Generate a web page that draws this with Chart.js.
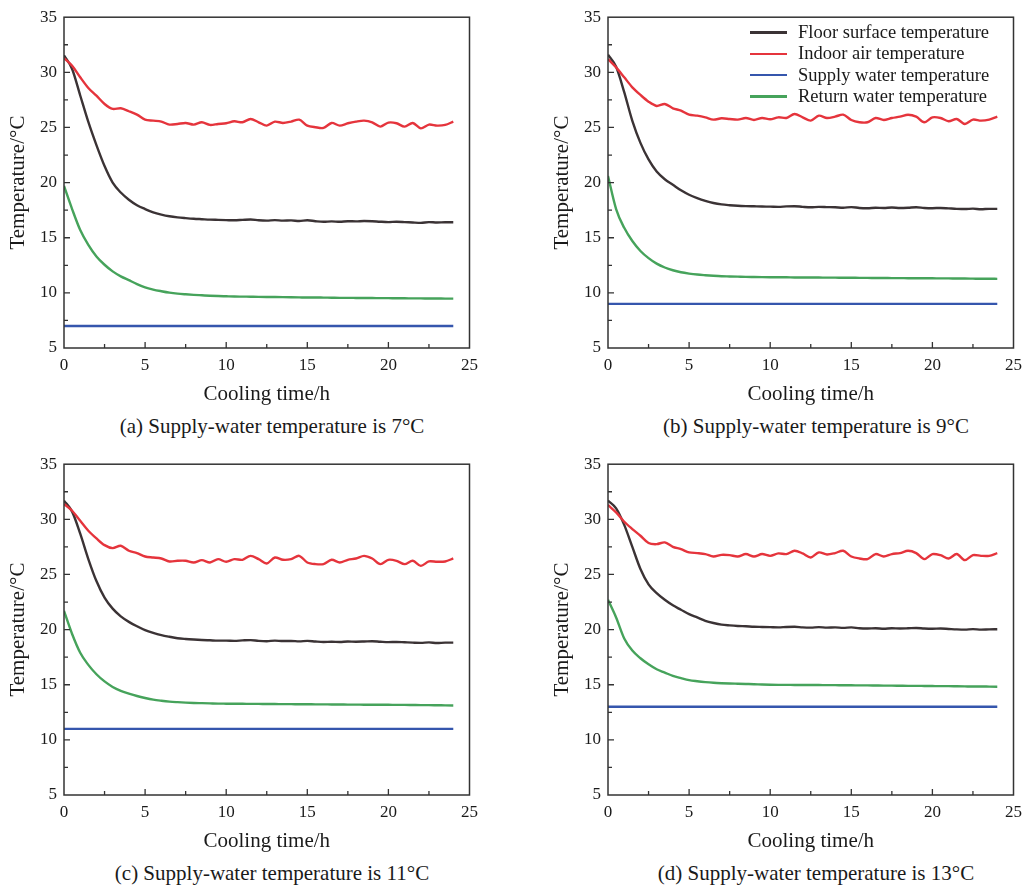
<!DOCTYPE html>
<html lang="en">
<head>
    <meta charset="UTF-8">
    <title>Floor cooling temperatures</title>
    <style>
        body {
            margin: 0;
            background: #ffffff;
            font-family: 'Liberation Serif', 'Times New Roman', serif;
            color: #1a1a1a;
            overflow: hidden;
        }
        .panel { position: absolute; }
        .caption {
            position: absolute;
            width: 500px;
            text-align: center;
            font-size: 21px;
            line-height: 24px;
            white-space: nowrap;
        }
        .legend {
            position: absolute;
            left: 750px;
            top: 22px;
            font-size: 18.5px;
            line-height: 21.3px;
        }
        .legend div { display: flex; align-items: center; }
        .legend span.line {
            display: inline-block;
            width: 37px;
            height: 2.5px;
            margin-right: 11px;
        }
    </style>
</head>
<body>

<canvas id="panelA" class="panel" width="485" height="410" style="left:0;top:0"></canvas>
<canvas id="panelB" class="panel" width="485" height="410" style="left:544px;top:0"></canvas>
<canvas id="panelC" class="panel" width="485" height="410" style="left:0;top:447px"></canvas>
<canvas id="panelD" class="panel" width="485" height="410" style="left:544px;top:447px"></canvas>

<div class="caption" style="left:22px;top:414px">(a) Supply-water temperature is 7°C</div>
<div class="caption" style="left:566px;top:414px">(b) Supply-water temperature is 9°C</div>
<div class="caption" style="left:22px;top:861px">(c) Supply-water temperature is 11°C</div>
<div class="caption" style="left:566px;top:861px">(d) Supply-water temperature is 13°C</div>

<div class="legend" id="legend"></div>

<script src="https://cdn.jsdelivr.net/npm/chart.js"></script>
<script>
    // cooling time, h
    const hours = [0, 0.5, 1, 1.5, 2, 2.5, 3, 3.5, 4, 4.5, 5, 5.5, 6, 6.5, 7, 7.5, 8, 8.5, 9, 9.5,
        10, 10.5, 11, 11.5, 12, 12.5, 13, 13.5, 14, 14.5, 15, 15.5, 16, 16.5, 17, 17.5, 18, 18.5, 19, 19.5,
        20, 20.5, 21, 21.5, 22, 22.5, 23, 23.5, 24];
    const supplyHours = [0, 24];

    const seriesNames = ['Floor surface temperature', 'Indoor air temperature', 'Supply water temperature', 'Return water temperature'];
    const seriesColors = ['#3b3335', '#e5343c', '#3556ad', '#46a35b'];

    // (a) supply 7 °C
    const floorA = [31.55, 30.3, 27.9, 25.5, 23.4, 21.5, 20.0, 19.1, 18.45, 17.95,
        17.6, 17.3, 17.1, 16.95, 16.85, 16.78, 16.72, 16.68, 16.64, 16.62,
        16.6, 16.58, 16.62, 16.66, 16.58, 16.55, 16.6, 16.55, 16.57, 16.52,
        16.58, 16.5, 16.45, 16.48, 16.45, 16.5, 16.48, 16.52, 16.5, 16.45,
        16.42, 16.45, 16.42, 16.38, 16.35, 16.42, 16.38, 16.4, 16.4];
    const indoorA = [31.30, 30.60, 29.55, 28.58, 27.88, 27.13, 26.68, 26.74, 26.47, 26.16,
        25.71, 25.62, 25.53, 25.26, 25.32, 25.41, 25.26, 25.47, 25.23, 25.32,
        25.38, 25.56, 25.47, 25.77, 25.47, 25.17, 25.53, 25.41, 25.53, 25.71,
        25.17, 25.02, 24.96, 25.41, 25.17, 25.38, 25.53, 25.62, 25.47, 25.08,
        25.44, 25.38, 25.08, 25.41, 24.92, 25.26, 25.17, 25.23, 25.53];
    const supplyA = [7.0, 7.0];
    const returnA = [19.7, 17.6, 15.7, 14.35, 13.3, 12.55, 11.95, 11.5, 11.15, 10.8,
        10.5, 10.3, 10.15, 10.02, 9.93, 9.87, 9.82, 9.78, 9.74, 9.71,
        9.69, 9.67, 9.66, 9.65, 9.64, 9.63, 9.62, 9.61, 9.6, 9.59,
        9.58, 9.58, 9.57, 9.56, 9.55, 9.55, 9.54, 9.53, 9.53, 9.52,
        9.52, 9.51, 9.51, 9.5, 9.5, 9.49, 9.49, 9.48, 9.48];

    // (b) supply 9 °C
    const floorB = [31.6, 30.5, 28.2, 25.6, 23.6, 22.1, 21.0, 20.3, 19.8, 19.3,
        18.9, 18.6, 18.35, 18.15, 18.02, 17.95, 17.9, 17.87, 17.85, 17.83,
        17.82, 17.8, 17.84, 17.86, 17.8, 17.76, 17.8, 17.78, 17.76, 17.72,
        17.78, 17.7, 17.68, 17.72, 17.7, 17.74, 17.7, 17.72, 17.76, 17.7,
        17.68, 17.7, 17.66, 17.62, 17.6, 17.64, 17.58, 17.62, 17.62];
    const indoorB = [31.21, 30.45, 29.55, 28.64, 27.95, 27.34, 26.95, 27.13, 26.74, 26.53,
        26.16, 26.07, 25.92, 25.71, 25.83, 25.77, 25.71, 25.86, 25.68, 25.86,
        25.74, 25.92, 25.86, 26.22, 25.92, 25.62, 26.07, 25.86, 25.98, 26.16,
        25.68, 25.47, 25.47, 25.86, 25.68, 25.86, 25.98, 26.16, 25.98, 25.47,
        25.92, 25.86, 25.56, 25.77, 25.32, 25.71, 25.62, 25.71, 25.98];
    const supplyB = [9.0, 9.0];
    const returnB = [20.6, 17.6, 15.9, 14.7, 13.8, 13.15, 12.65, 12.3, 12.05, 11.87,
        11.75, 11.66, 11.6, 11.55, 11.51, 11.49, 11.47, 11.45, 11.44, 11.43,
        11.42, 11.41, 11.41, 11.4, 11.4, 11.39, 11.39, 11.38, 11.38, 11.37,
        11.37, 11.36, 11.36, 11.35, 11.35, 11.34, 11.34, 11.33, 11.33, 11.32,
        11.32, 11.31, 11.31, 11.3, 11.3, 11.29, 11.28, 11.28, 11.27];

    // (c) supply 11 °C
    const floorC = [31.7, 30.7, 28.7, 26.4, 24.4, 22.9, 21.9, 21.2, 20.7, 20.3,
        19.95, 19.7, 19.5, 19.35, 19.22, 19.15, 19.1, 19.06, 19.03, 19.0,
        19.0, 18.98, 19.02, 19.05, 18.98, 18.95, 19.0, 18.96, 18.97, 18.93,
        18.98, 18.92, 18.88, 18.9, 18.88, 18.92, 18.9, 18.92, 18.95, 18.9,
        18.86, 18.88, 18.85, 18.82, 18.8, 18.84, 18.78, 18.82, 18.82];
    const indoorC = [31.39, 30.78, 29.87, 28.97, 28.27, 27.66, 27.39, 27.60, 27.15, 26.94,
        26.63, 26.54, 26.45, 26.18, 26.24, 26.24, 26.09, 26.30, 26.09, 26.39,
        26.15, 26.39, 26.33, 26.69, 26.39, 26.00, 26.54, 26.33, 26.39, 26.69,
        26.09, 25.94, 25.94, 26.33, 26.09, 26.33, 26.45, 26.69, 26.45, 25.94,
        26.33, 26.24, 25.94, 26.24, 25.78, 26.18, 26.15, 26.18, 26.45];
    const supplyC = [11.0, 11.0];
    const returnC = [21.7, 19.6, 17.9, 16.8, 15.95, 15.3, 14.8, 14.45, 14.2, 13.98,
        13.8, 13.65, 13.55, 13.47, 13.42, 13.38, 13.35, 13.33, 13.31, 13.29,
        13.28, 13.27, 13.27, 13.26, 13.26, 13.25, 13.25, 13.24, 13.24, 13.23,
        13.23, 13.22, 13.22, 13.21, 13.21, 13.2, 13.2, 13.19, 13.19, 13.18,
        13.18, 13.17, 13.17, 13.16, 13.15, 13.15, 13.14, 13.13, 13.12];

    // (d) supply 13 °C
    const floorD = [31.7, 31.0, 29.5, 27.5, 25.5, 24.1, 23.3, 22.7, 22.2, 21.8,
        21.4, 21.1, 20.8, 20.6, 20.45, 20.38, 20.33, 20.3, 20.26, 20.24,
        20.22, 20.2, 20.24, 20.26, 20.2, 20.18, 20.22, 20.18, 20.2, 20.16,
        20.2, 20.12, 20.1, 20.12, 20.08, 20.12, 20.1, 20.12, 20.15, 20.1,
        20.08, 20.1, 20.06, 20.02, 20.0, 20.04, 20.0, 20.02, 20.03];
    const indoorD = [31.30, 30.63, 29.78, 29.12, 28.51, 27.85, 27.75, 27.91, 27.51, 27.30,
        27.00, 26.94, 26.85, 26.63, 26.78, 26.75, 26.63, 26.85, 26.63, 26.85,
        26.69, 26.91, 26.85, 27.15, 26.91, 26.54, 27.00, 26.81, 26.94, 27.15,
        26.63, 26.45, 26.39, 26.85, 26.63, 26.85, 26.94, 27.15, 26.94, 26.39,
        26.85, 26.75, 26.45, 26.85, 26.30, 26.75, 26.69, 26.69, 26.94];
    const supplyD = [13.0, 13.0];
    const returnD = [22.7, 21.1, 19.2, 18.1, 17.4, 16.85, 16.4, 16.1, 15.8, 15.6,
        15.42, 15.32, 15.24, 15.18, 15.14, 15.11, 15.09, 15.07, 15.05, 15.02,
        15.0, 14.99, 14.99, 14.98, 14.98, 14.97, 14.97, 14.96, 14.96, 14.95,
        14.95, 14.94, 14.94, 14.93, 14.92, 14.92, 14.91, 14.9, 14.9, 14.89,
        14.88, 14.87, 14.87, 14.86, 14.85, 14.84, 14.84, 14.83, 14.82];

    Chart.defaults.font.family = "'Liberation Serif', 'Times New Roman', serif";
    Chart.defaults.color = '#1a1a1a';

    // box around the plot plus inward major/minor ticks on the bottom and left axes
    const frameTicks = {
        id: 'frameTicks',
        afterDatasetsDraw(chart) {
            const { ctx, chartArea: a, scales: { x, y } } = chart;
            ctx.save();
            ctx.strokeStyle = '#333';
            ctx.lineWidth = 1.5;
            ctx.strokeRect(a.left, a.top, a.right - a.left, a.bottom - a.top);
            ctx.lineWidth = 1.3;
            ctx.beginPath();
            for (let v = 2.5; v < 25; v += 2.5) {
                const px = x.getPixelForValue(v);
                const len = v % 5 === 0 ? 6 : 4;
                ctx.moveTo(px, a.bottom);
                ctx.lineTo(px, a.bottom - len);
            }
            for (let v = 7.5; v < 35; v += 2.5) {
                const py = y.getPixelForValue(v);
                const len = v % 5 === 0 ? 6 : 4;
                ctx.moveTo(a.left, py);
                ctx.lineTo(a.left + len, py);
            }
            ctx.stroke();
            ctx.restore();
        }
    };

    function toPoints(xs, ys) {
        return xs.map((t, i) => ({ x: t, y: ys[i] }));
    }

    function makePanel(id, floor, indoor, supply, ret) {
        const lines = [toPoints(hours, floor), toPoints(hours, indoor), toPoints(supplyHours, supply), toPoints(hours, ret)];
        new Chart(document.getElementById(id), {
            type: 'line',
            data: {
                datasets: lines.map((pts, i) => ({
                    label: seriesNames[i],
                    data: pts,
                    borderColor: seriesColors[i],
                    backgroundColor: seriesColors[i],
                    borderWidth: 2.4,
                    pointRadius: 0,
                    tension: i === 1 ? 0.3 : 0.4,
                    cubicInterpolationMode: i === 1 ? 'default' : 'monotone',
                    order: i === 1 ? 0 : 1
                }))
            },
            options: {
                responsive: false,
                animation: false,
                layout: { padding: { top: 17, right: 9, left: 0, bottom: 0 } },
                plugins: { legend: { display: false }, tooltip: { enabled: false } },
                scales: {
                    x: {
                        type: 'linear',
                        min: 0, max: 25,
                        grid: { display: false, drawTicks: false },
                        border: { display: false },
                        ticks: { stepSize: 5, padding: 7, font: { size: 17 }, color: '#1a1a1a' },
                        title: { display: true, text: 'Cooling time/h', font: { size: 21 }, padding: { top: 0, bottom: 3 }, color: '#1a1a1a' },
                        afterFit(scale) { scale.height = 62; }
                    },
                    y: {
                        min: 5, max: 35,
                        grid: { display: false, drawTicks: false },
                        border: { display: false },
                        ticks: { stepSize: 5, padding: 7, font: { size: 17 }, color: '#1a1a1a' },
                        title: { display: true, text: 'Temperature/°C', font: { size: 21 }, padding: { top: 6, bottom: 0 }, color: '#1a1a1a' },
                        afterFit(scale) { scale.width = 64; }
                    }
                }
            },
            plugins: [frameTicks]
        });
    }

    makePanel('panelA', floorA, indoorA, supplyA, returnA);
    makePanel('panelB', floorB, indoorB, supplyB, returnB);
    makePanel('panelC', floorC, indoorC, supplyC, returnC);
    makePanel('panelD', floorD, indoorD, supplyD, returnD);

    // legend shown only in panel (b)
    const legendBox = document.getElementById('legend');
    seriesNames.forEach((name, i) => {
        const row = document.createElement('div');
        row.innerHTML = '<span class="line" style="background:' + seriesColors[i] + '"></span>' + name;
        legendBox.appendChild(row);
    });
</script>
</body>
</html>
